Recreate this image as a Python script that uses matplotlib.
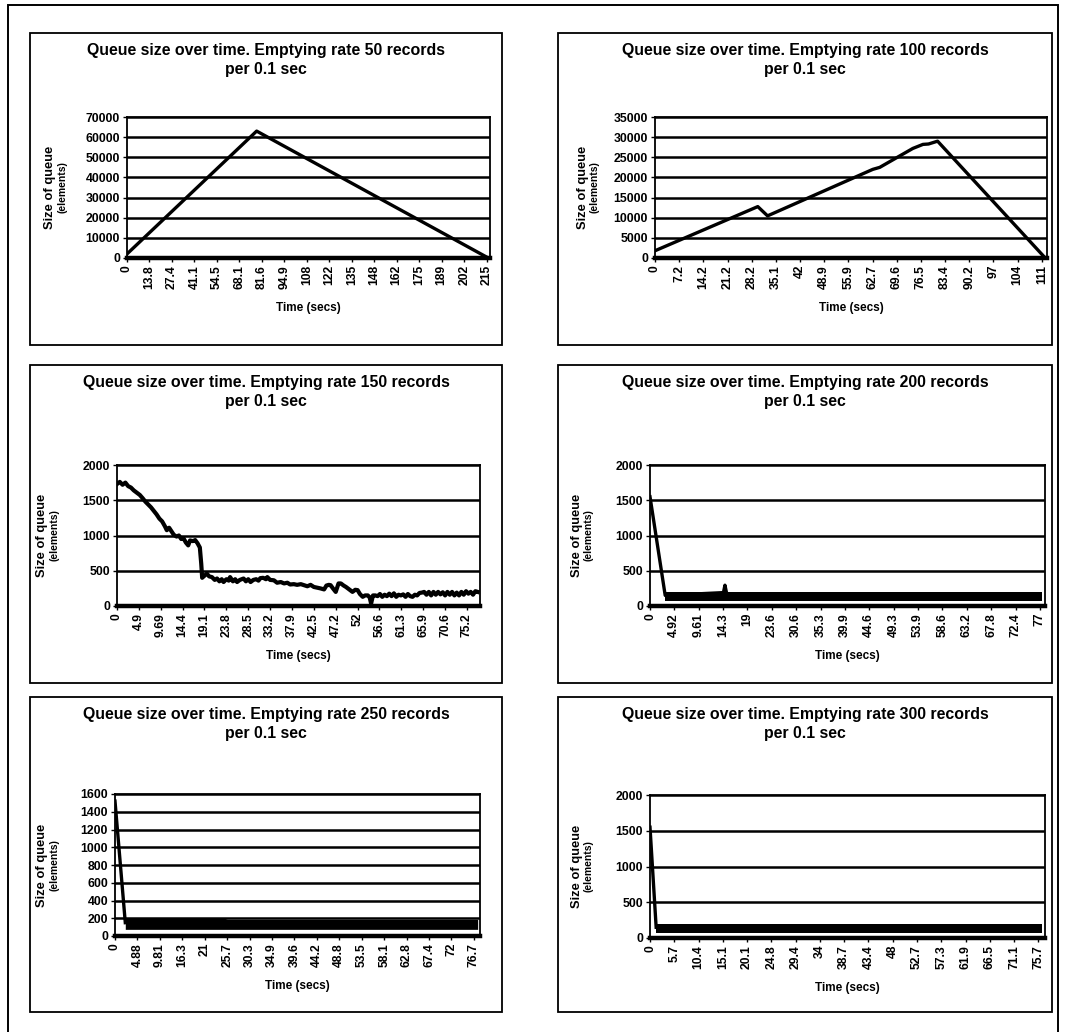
import matplotlib
matplotlib.use("Agg")
import matplotlib.pyplot as plt
from matplotlib.patches import Rectangle
import numpy as np

# ---------------- data ----------------
titles = [
    "Queue size over time. Emptying rate 50 records\nper 0.1 sec",
    "Queue size over time. Emptying rate 100 records\nper 0.1 sec",
    "Queue size over time. Emptying rate 150 records\nper 0.1 sec",
    "Queue size over time. Emptying rate 200 records\nper 0.1 sec",
    "Queue size over time. Emptying rate 250 records\nper 0.1 sec",
    "Queue size over time. Emptying rate 300 records\nper 0.1 sec",
]

xlabels1 = ["0", "13.8", "27.4", "41.1", "54.5", "68.1", "81.6", "94.9", "108", "122",
            "135", "148", "162", "175", "189", "202", "215"]
xlabels2 = ["0", "7.2", "14.2", "21.2", "28.2", "35.1", "42", "48.9", "55.9", "62.7",
            "69.6", "76.5", "83.4", "90.2", "97", "104", "111"]
xlabels3 = ["0", "4.9", "9.69", "14.4", "19.1", "23.8", "28.5", "33.2", "37.9", "42.5",
            "47.2", "52", "56.6", "61.3", "65.9", "70.6", "75.2"]
xlabels4 = ["0", "4.92", "9.61", "14.3", "19", "23.6", "30.6", "35.3", "39.9", "44.6",
            "49.3", "53.9", "58.6", "63.2", "67.8", "72.4", "77"]
xlabels5 = ["0", "4.88", "9.81", "16.3", "21", "25.7", "30.3", "34.9", "39.6", "44.2",
            "48.8", "53.5", "58.1", "62.8", "67.4", "72", "76.7"]
xlabels6 = ["0", "5.7", "10.4", "15.1", "20.1", "24.8", "29.4", "34", "38.7", "43.4",
            "48", "52.7", "57.3", "61.9", "66.5", "71.1", "75.7"]

yticks1 = [0, 10000, 20000, 30000, 40000, 50000, 60000, 70000]
yticks2 = [0, 5000, 10000, 15000, 20000, 25000, 30000, 35000]
yticks3 = [0, 500, 1000, 1500, 2000]
yticks4 = [0, 500, 1000, 1500, 2000]
yticks5 = [0, 200, 400, 600, 800, 1000, 1200, 1400, 1600]
yticks6 = [0, 500, 1000, 1500, 2000]

# chart 1 (rate 50)
t1 = [0, 77.5, 216]
q1 = [2000, 63000, 0]

# chart 2 (rate 100)
t2 = [0, 29.5, 32.3, 62.5, 64.5, 74.0, 76.9, 78.5, 81.1, 112]
q2 = [1800, 12760, 10460, 22000, 22500, 27200, 28200, 28300, 29000, 0]

# chart 3 (rate 150)
t3 = [0, 0.6, 1.2, 1.8, 2.4, 3.0, 3.6, 4.2, 4.9, 5.5, 6.1, 6.7, 7.3, 7.9, 8.5, 9.1,
      9.7, 10.3, 10.7, 11.2, 11.7, 12.2, 12.8, 13.3, 13.8, 14.3, 14.8, 15.3, 15.7,
      16.3, 16.8, 17.3, 17.8, 18.1, 18.3, 18.8, 19.3, 19.8, 20.4, 21.0, 21.5, 22.0,
      22.5, 22.9, 23.5, 24.0, 24.3, 24.9, 25.4, 25.8, 26.4, 27.2, 27.7, 28.2, 28.7,
      29.3, 29.9, 30.4, 30.8, 31.4, 32.0, 32.3, 32.9, 33.7, 34.4, 35.2, 35.9, 36.6,
      37.2, 38.0, 38.7, 39.5, 40.2, 40.9, 41.6, 42.3, 43.0, 43.7, 44.5, 45.0, 45.5,
      45.9, 46.4, 47.0, 47.6, 48.1, 48.7, 49.2, 49.8, 50.6, 51.2, 51.7, 52.2, 52.8,
      53.3, 53.9, 54.3, 54.6, 55.0, 55.5, 56.0, 56.5, 57.0, 57.5, 58.0, 58.5, 59.0,
      59.5, 60.0, 60.5, 61.0, 61.5, 62.0, 62.5, 63.0, 63.5, 64.0, 64.5, 65.0, 65.5,
      66.0, 66.5, 67.0, 67.5, 68.0, 68.5, 69.0, 69.5, 70.0, 70.5, 71.0, 71.5, 72.0,
      72.5, 73.0, 73.5, 74.0, 74.5, 75.0, 75.5, 76.0, 76.5, 77.0, 77.5]
q3 = [1730, 1760, 1720, 1750, 1700, 1680, 1640, 1610, 1575, 1530, 1480, 1440, 1400,
      1350, 1300, 1240, 1200, 1130, 1075, 1110, 1060, 1010, 985, 1000, 950, 960, 900,
      860, 930, 920, 935, 890, 830, 600, 400, 430, 460, 420, 410, 370, 390, 350, 380,
      340, 380, 360, 410, 350, 380, 340, 370, 390, 350, 380, 340, 370, 380, 360, 395,
      400, 380, 410, 370, 365, 330, 340, 320, 330, 305, 310, 300, 310, 295, 280, 300,
      270, 260, 250, 235, 290, 300, 295, 250, 200, 320, 320, 290, 270, 240, 200, 230,
      225, 170, 130, 150, 150, 120, 35, 150, 150, 140, 170, 130, 160, 140, 175, 140,
      180, 130, 160, 150, 165, 130, 170, 140, 130, 160, 150, 185, 190, 200, 160, 200,
      150, 200, 160, 200, 165, 195, 150, 200, 160, 200, 150, 190, 150, 200, 160, 210,
      175, 200, 160, 210, 200]

# chart 4 (rate 200): initial drop, spike, then dense oscillation band
t4_line = [0, 3.0, 14.5, 14.8, 15.1]
q4_line = [1550, 150, 190, 295, 190]
t4_band = [3.0, 77.5]
q4_lo = [72, 72]
q4_hi = [198, 198]

# chart 5 (rate 250)
t5_line = [0, 2.2]
q5_line = [1520, 150]
t5_band = [2.2, 23.4, 24.0, 77.5]
q5_lo = [75, 75, 75, 75]
q5_hi = [200, 200, 188, 188]

# chart 6 (rate 300)
t6_line = [0, 1.2]
q6_line = [1550, 150]
t6_band = [1.2, 76.5]
q6_lo = [75, 75]
q6_hi = [195, 195]

# ---------------- layout ----------------
W, H = 1065, 1032
plt.rcParams['font.family'] = ['Liberation Sans', 'DejaVu Sans']
plt.rcParams['font.weight'] = 'bold'
fig = plt.figure(figsize=(W / 100, H / 100), dpi=100)
fig.patch.set_facecolor('white')


def fx(px):
    return px / W


def fy(py):
    return 1 - py / H


def box(x0, y0, x1, y1, lw=1.3):
    fig.add_artist(Rectangle((fx(x0), fy(y1)), fx(x1) - fx(x0), fy(y0) - fy(y1),
                             transform=fig.transFigure, fill=False, ec='black', lw=lw))


# outer frame (bottom edge off canvas)
box(8, 5, 1058, 1045, lw=1.4)

specs = [
    # box(x0,y0,x1,y1), axes(l,t,r,b), ylabel x positions, xlabels, yticks, xmax
    ((30, 33, 502, 345), (127, 117, 490, 258), (50, 62), xlabels1, yticks1, 217),
    ((558, 33, 1052, 345), (655, 117, 1047, 258), (583, 595), xlabels2, yticks2, 112.5),
    ((30, 365, 502, 683), (117, 465, 480, 606), (42, 54), xlabels3, yticks3, 78),
    ((558, 365, 1052, 683), (650, 465, 1045, 606), (577, 589), xlabels4, yticks4, 78),
    ((30, 697, 502, 1012), (115, 794, 480, 936), (42, 54), xlabels5, yticks5, 78),
    ((558, 697, 1052, 1012), (650, 795, 1045, 938), (577, 589), xlabels6, yticks6, 77),
]

axes = []
for i, (bx, ap, ylx, xl, yt, xmax) in enumerate(specs):
    box(*bx)
    l, t, r, b = ap
    ax = fig.add_axes([fx(l), fy(b), fx(r) - fx(l), fy(t) - fy(b)])
    axes.append(ax)
    ax.set_facecolor('white')
    ax.set_ylim(yt[0], yt[-1])
    ax.set_yticks(yt)
    ax.set_yticklabels([str(v) for v in yt], fontsize=8.8, fontweight='bold')
    last = float(xl[-1])
    ax.set_xticks(np.linspace(0, last, len(xl)))
    ax.set_xticklabels(xl, rotation=90, fontsize=8.7, fontweight='bold')
    ax.set_xlim(0, xmax)
    ax.yaxis.grid(True, color='black', lw=1.8)
    ax.set_axisbelow(True)
    for s in ['left', 'top', 'right']:
        ax.spines[s].set_linewidth(1.3)
    ax.spines['bottom'].set_linewidth(3.2)
    ax.tick_params(axis='both', length=3, width=1, pad=2, direction='out')
    # title
    cx = (bx[0] + bx[2]) / 2
    fig.text(fx(cx), fy(bx[1] + 10), titles[i], ha='center', va='top',
             fontsize=11.4, fontweight='bold', linespacing=1.3)
    # y label
    cy = (t + b) / 2
    fig.text(fx(ylx[0]), fy(cy), "Size of queue", rotation=90, ha='center', va='center',
             fontsize=9.3, fontweight='bold')
    fig.text(fx(ylx[1]), fy(cy), "(elements)", rotation=90, ha='center', va='center',
             fontsize=7.5, fontweight='bold')
    # x label
    fig.text(fx((l + r) / 2), fy(b + 50), "Time (secs)", ha='center', va='center',
             fontsize=8.5, fontweight='bold')

lw = 2.4
axes[0].plot(t1, q1, color='black', lw=lw)
axes[1].plot(t2, q2, color='black', lw=lw)
axes[2].plot(t3, q3, color='black', lw=3.0)
axes[3].plot(t4_line, q4_line, color='black', lw=lw)
axes[3].fill_between(t4_band, q4_lo, q4_hi, color='black', lw=0)
axes[4].plot(t5_line, q5_line, color='black', lw=lw)
axes[4].fill_between(t5_band, q5_lo, q5_hi, color='black', lw=0)
axes[5].plot(t6_line, q6_line, color='black', lw=lw)
axes[5].fill_between(t6_band, q6_lo, q6_hi, color='black', lw=0)

fig.savefig("out.png", dpi=100, facecolor='white')
